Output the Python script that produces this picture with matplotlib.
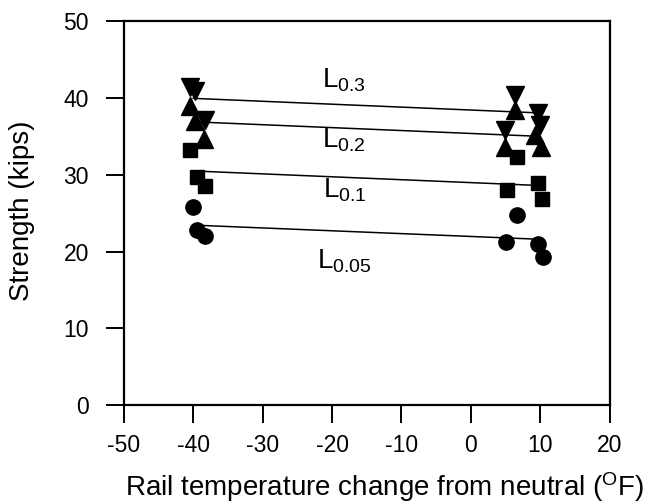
import matplotlib
matplotlib.use("Agg")
import matplotlib.pyplot as plt

plt.rcParams['font.family'] = ['Liberation Sans', 'DejaVu Sans']
plt.rcParams['mathtext.fontset'] = 'custom'
plt.rcParams['mathtext.rm'] = 'Liberation Sans'
plt.rcParams['axes.unicode_minus'] = False

# L0.3 (down triangles)
l03_x = [-40.5, -39.7, -38.3, 6.4, 4.9, 9.7, 10.0]
l03_y = [41.4, 40.9, 37.1, 40.4, 35.8, 38.0, 36.5]
# L0.2 (up triangles)
l02_x = [-40.4, -39.8, -38.5, 6.4, 4.9, 9.3, 10.1]
l02_y = [38.9, 37.0, 34.7, 38.4, 33.6, 35.2, 33.6]
# L0.1 (squares)
l01_x = [-40.4, -39.4, -38.3, 6.6, 5.2, 9.7, 10.2]
l01_y = [33.2, 29.7, 28.5, 32.3, 28.0, 28.9, 26.8]
# L0.05 (circles)
l005_x = [-40.1, -39.4, -38.3, 6.6, 5.1, 9.7, 10.4]
l005_y = [25.8, 22.8, 22.0, 24.7, 21.3, 21.05, 19.3]

# fitted trend lines: values at x = -40 and x = 10
fit_x = [-40, 10]
fit_l03 = [39.95, 38.05]
fit_l02 = [36.9, 35.0]
fit_l01 = [30.5, 28.6]
fit_l005 = [23.45, 21.6]

labels = ['L_{0.3}', 'L_{0.2}', 'L_{0.1}', 'L_{0.05}']
label_x = [-21.5, -21.5, -21.3, -22.2]
label_y = [41.4, 33.5, 27.0, 17.8]

xticks = [-50, -40, -30, -20, -10, 0, 10, 20]
yticks = [0, 10, 20, 30, 40, 50]

fig = plt.figure(figsize=(6.48, 5.04), dpi=100)
ax = fig.add_axes([0.191, 0.196, 0.75, 0.762])

for fy in [fit_l03, fit_l02, fit_l01, fit_l005]:
    ax.plot(fit_x, fy, color='black', lw=1.1, zorder=2)

ax.plot(l03_x, l03_y, linestyle='none', marker='v', ms=12.5, color='black', zorder=3)
ax.plot(l02_x, l02_y, linestyle='none', marker='^', ms=12.5, color='black', zorder=3)
ax.plot(l01_x, l01_y, linestyle='none', marker='s', ms=10, color='black', zorder=3)
ax.plot(l005_x, l005_y, linestyle='none', marker='o', ms=11, color='black', zorder=3)

for t, x, y in zip(labels, label_x, label_y):
    ax.text(x, y, r'$\mathregular{' + t + '}$', fontsize=20, ha='left', va='baseline')

ax.set_xlim(-50, 20)
ax.set_ylim(0, 50)
ax.set_xticks(xticks)
ax.set_yticks(yticks)
ax.tick_params(direction='out', length=13, width=1.4, labelsize=16.5)
ax.tick_params(axis='x', pad=8)
ax.tick_params(axis='y', pad=12)
for s in ax.spines.values():
    s.set_linewidth(1.6)

ax.set_xlabel(r'Rail temperature change from neutral ($\mathregular{^{O}}$F)', fontsize=20, labelpad=12)
ax.xaxis.set_label_coords(0.537, -0.17)
ax.set_ylabel('Strength (kips)', fontsize=20)
ax.yaxis.set_label_coords(-0.183, 0.507)

fig.savefig('out.png', dpi=100)
